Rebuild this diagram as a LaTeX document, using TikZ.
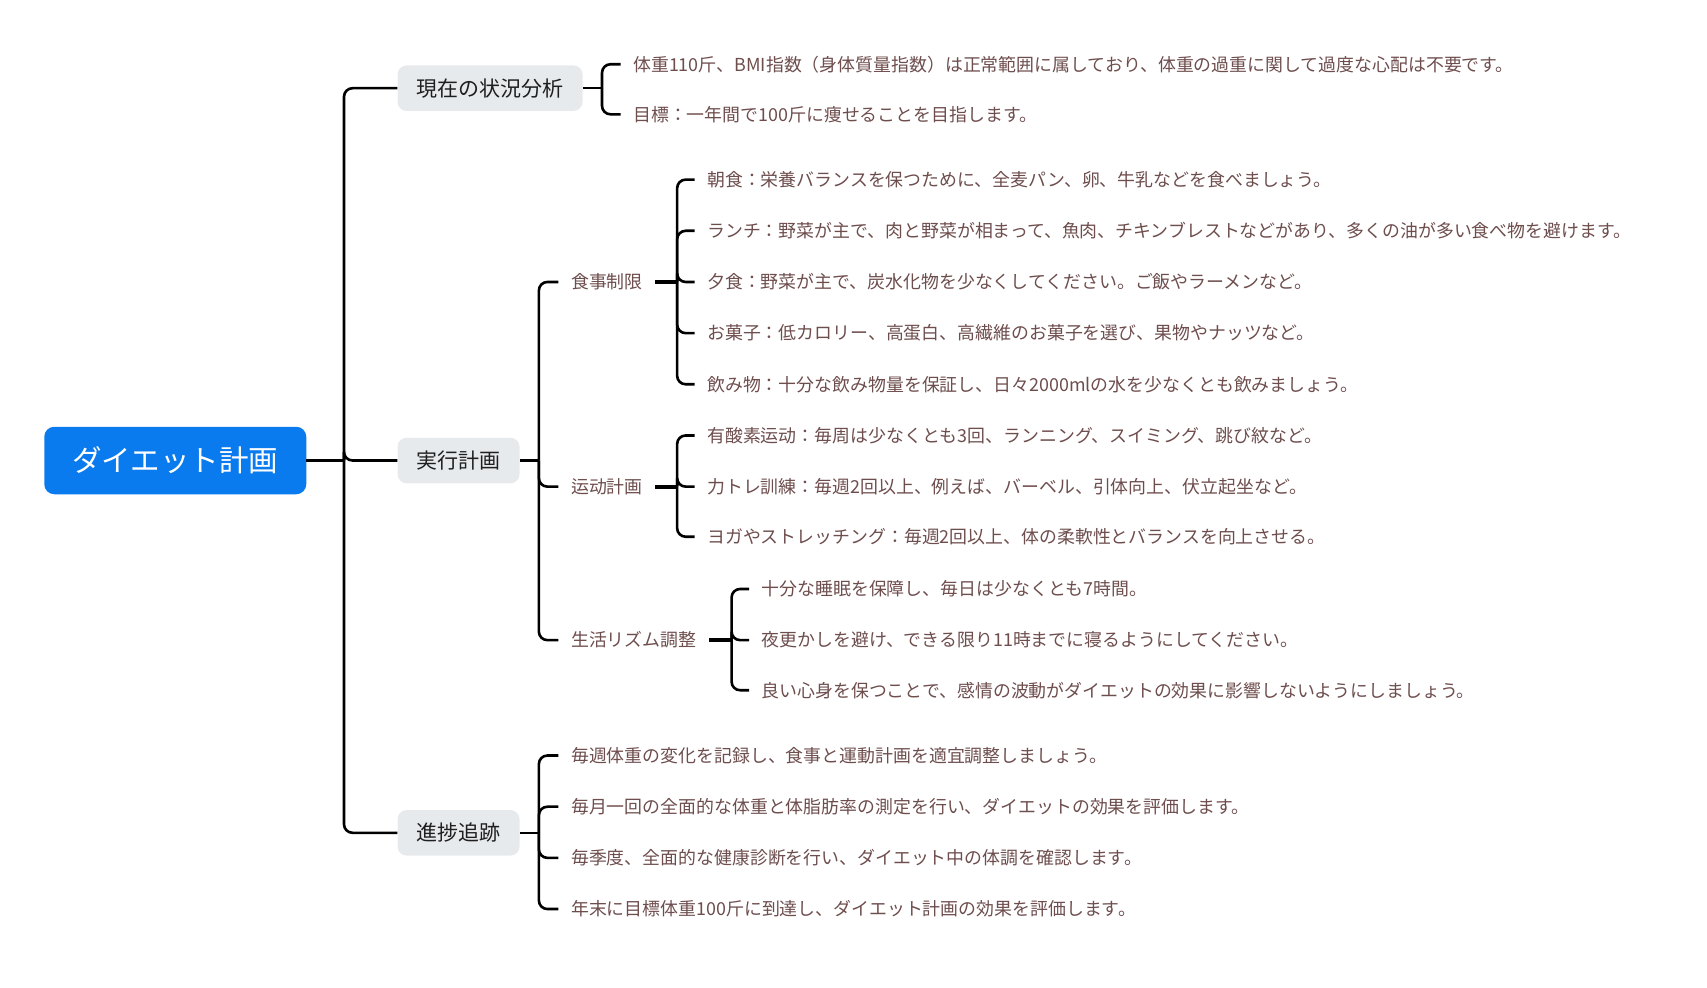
\documentclass[tikz,border=0pt]{standalone}
\usepackage{fontspec}
\setmainfont{Noto Sans CJK JP}

\definecolor{rootblue}{HTML}{0A7BEF}
\definecolor{topicgray}{HTML}{E7EAED}
\definecolor{leafbrown}{HTML}{6E4D4D}

\begin{document}
\begin{tikzpicture}[x=1.0887pt, y=-1.0887pt,
    conn/.style={line width=2.6pt, rounded corners=8.5pt},
    stub/.style={line width=3.8pt},
    rootnode/.style={fill=rootblue, text=white, rounded corners=10pt, inner sep=0pt,
        minimum width=262pt, minimum height=67.5pt, font=\fontsize{29.5}{32}\selectfont},
    topic/.style={fill=topicgray, text=black!88, rounded corners=9pt, anchor=west,
        inner xsep=19pt, minimum height=45.5pt, font=\fontsize{21}{24}\selectfont},
    sub/.style={text=leafbrown, anchor=west, inner xsep=12.5pt, inner ysep=2pt,
        font=\fontsize{17.9}{20}\selectfont},
    leaf/.style={sub}]

        \useasboundingbox (0,0) rectangle (1568,907);

        % Root
        \node[rootnode] (root) at (161,423) {ダイエット計画};
        \coordinate (j0) at (316,423);

        % Main topics
        \node[topic] (sit) at (365,81) {現在の状況分析};
        \node[topic] (plan) at (365,423) {実行計画};
        \node[topic] (track) at (365,765) {進捗追跡};

        \draw[conn] (root.east) -- (j0);
        \draw[conn] (j0) |- (sit.west);
        \draw[conn] (j0) |- (plan.west);
        \draw[conn] (j0) |- (track.west);

        % Current situation
        \coordinate (jsit) at (553,81);
        \node[leaf] (sit1) at (570,59) {体重110斤、BMI指数（身体質量指数）は正常範囲に属しており、体重の過重に関して過度な心配は不要です。};
        \node[leaf] (sit2) at (570,105) {目標：一年間で100斤に痩せることを目指します。};
        \draw[conn] (sit.east) -- (jsit);
        \draw[conn] (jsit) |- (sit1.west);
        \draw[conn] (jsit) |- (sit2.west);

        % Action plan
        \coordinate (jplan) at (495,423);
        \node[sub] (food) at (513,259) {食事制限};
        \node[sub] (sport) at (513,447) {运动計画};
        \node[sub] (life) at (513,588) {生活リズム調整};
        \draw[conn] (plan.east) -- (jplan);
        \draw[conn] (jplan) |- (food.west);
        \draw[conn] (jplan) |- (sport.west);
        \draw[conn] (jplan) |- (life.west);

        % Diet
        \coordinate (jfood) at (622,259);
        \node[leaf] (food1) at (638,165) {朝食：栄養バランスを保つために、全麦パン、卵、牛乳などを食べましょう。};
        \node[leaf] (food2) at (638,212) {ランチ：野菜が主で、肉と野菜が相まって、魚肉、チキンブレストなどがあり、多くの油が多い食べ物を避けます。};
        \node[leaf] (food3) at (638,259) {夕食：野菜が主で、炭水化物を少なくしてください。ご飯やラーメンなど。};
        \node[leaf] (food4) at (638,306) {お菓子：低カロリー、高蛋白、高繊維のお菓子を選び、果物やナッツなど。};
        \node[leaf] (food5) at (638,353) {飲み物：十分な飲み物量を保証し、日々2000mlの水を少なくとも飲みましょう。};
        \draw[stub] (food.east) -- (jfood);
        \draw[conn] (jfood) |- (food1.west);
        \draw[conn] (jfood) |- (food2.west);
        \draw[conn] (jfood) |- (food3.west);
        \draw[conn] (jfood) |- (food4.west);
        \draw[conn] (jfood) |- (food5.west);

        % Exercise
        \coordinate (jsport) at (622,447);
        \node[leaf] (sport1) at (638,400) {有酸素运动：毎周は少なくとも3回、ランニング、スイミング、跳び紋など。};
        \node[leaf] (sport2) at (638,447) {力トレ訓練：毎週2回以上、例えば、バーベル、引体向上、伏立起坐など。};
        \node[leaf] (sport3) at (638,493) {ヨガやストレッチング：毎週2回以上、体の柔軟性とバランスを向上させる。};
        \draw[stub] (sport.east) -- (jsport);
        \draw[conn] (jsport) |- (sport1.west);
        \draw[conn] (jsport) |- (sport2.west);
        \draw[conn] (jsport) |- (sport3.west);

        % Daily rhythm
        \coordinate (jlife) at (672,588);
        \node[leaf] (life1) at (688,541) {十分な睡眠を保障し、毎日は少なくとも7時間。};
        \node[leaf] (life2) at (688,588) {夜更かしを避け、できる限り11時までに寝るようにしてください。};
        \node[leaf] (life3) at (688,634) {良い心身を保つことで、感情の波動がダイエットの効果に影響しないようにしましょう。};
        \draw[stub] (life.east) -- (jlife);
        \draw[conn] (jlife) |- (life1.west);
        \draw[conn] (jlife) |- (life2.west);
        \draw[conn] (jlife) |- (life3.west);

        % Progress tracking
        \coordinate (jtrack) at (495,765);
        \node[leaf] (track1) at (513,694) {毎週体重の変化を記録し、食事と運動計画を適宜調整しましょう。};
        \node[leaf] (track2) at (513,741) {毎月一回の全面的な体重と体脂肪率の測定を行い、ダイエットの効果を評価します。};
        \node[leaf] (track3) at (513,788) {毎季度、全面的な健康診断を行い、ダイエット中の体調を確認します。};
        \node[leaf] (track4) at (513,835) {年末に目標体重100斤に到達し、ダイエット計画の効果を評価します。};
        \draw[conn] (track.east) -- (jtrack);
        \draw[conn] (jtrack) |- (track1.west);
        \draw[conn] (jtrack) |- (track2.west);
        \draw[conn] (jtrack) |- (track3.west);
        \draw[conn] (jtrack) |- (track4.west);
    \end{tikzpicture}
\end{document}
